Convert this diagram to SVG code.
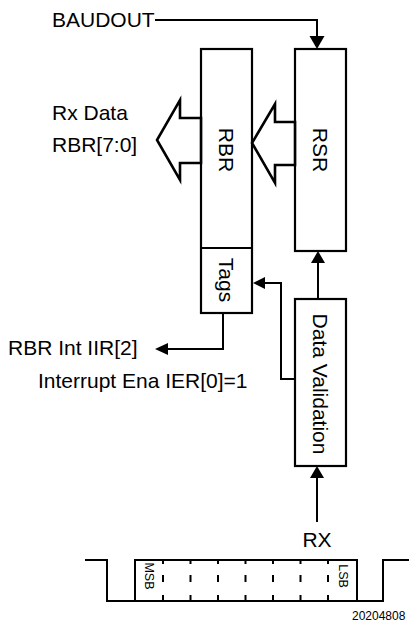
<svg xmlns="http://www.w3.org/2000/svg" width="409" height="625" viewBox="0 0 409 625">
<style>
.box{fill:#fff;stroke:#000;stroke-width:2.2}
.ln{fill:none;stroke:#000;stroke-width:2}
.ah{fill:#000;stroke:none}
.t{font-family:"Liberation Sans",Arial,sans-serif;font-size:21px;fill:#000}
.s{font-family:"Liberation Sans",Arial,sans-serif;font-size:12.5px;fill:#000}
.big{fill:#fff;stroke:#000;stroke-width:2.6;stroke-linejoin:miter}
.tick{stroke:#000;stroke-width:2;stroke-dasharray:4 11 7 13 6}
</style>
<rect width="409" height="625" fill="#fff"/>
<g id="connectors">
  <path class="ln" d="M155,20 H317 V37"/>
  <polygon class="ah" points="309.5,36 324.5,36 317,49"/>
  <path class="ln" d="M318,299 V262"/>
  <polygon class="ah" points="311,263 325,263 318,251"/>
  <path class="ln" d="M317,522 V477"/>
  <polygon class="ah" points="310,478 324,478 317,466"/>
  <path class="ln" d="M295,379 H281 V283 H263"/>
  <polygon class="ah" points="265,277 265,289 253,283"/>
  <path class="ln" d="M223,313 V349 H166"/>
  <polygon class="ah" points="168,343 168,355 155,349"/>
</g>
<g id="rsr">
  <rect class="box" x="295" y="49" width="51" height="202"/>
  <text class="t" transform="translate(320.5,150) rotate(90)" text-anchor="middle" y="7.5">RSR</text>
</g>
<g id="rbr">
  <rect class="box" x="201" y="49" width="51" height="264"/>
  <line class="ln" x1="201" y1="248" x2="252" y2="248"/>
  <text class="t" transform="translate(226.5,150) rotate(90)" text-anchor="middle" y="7.5">RBR</text>
</g>
<g id="tags">
  <text class="t" transform="translate(226.5,280) rotate(90)" text-anchor="middle" y="7.5">Tags</text>
</g>
<g id="data-validation">
  <rect class="box" x="295" y="299" width="51" height="167"/>
  <text class="t" transform="translate(320.5,384) rotate(90)" text-anchor="middle" y="7.5">Data Validation</text>
</g>
<g id="rsr-to-rbr-bus">
  <polygon class="big" points="295,122 275,122 275,104 252,143 275,183 275,165 295,165"/>
</g>
<g id="rx-data-bus">
  <polygon class="big" points="201,118 180,118 180,100 157,140 180,180 180,163 201,163"/>
</g>
<g id="labels">
  <text class="t" x="52" y="27">BAUDOUT</text>
  <text class="t" x="52" y="120">Rx Data</text>
  <text class="t" x="52" y="152">RBR[7:0]</text>
  <text class="t" x="8" y="355">RBR Int IIR[2]</text>
  <text class="t" x="38" y="388">Interrupt Ena IER[0]=1</text>
  <text class="t" x="317" y="547" text-anchor="middle">RX</text>
  <text class="s" x="352" y="620" style="font-size:12px">20204808</text>
</g>
<g id="rx-frame">
  <path class="ln" d="M85,560 H107 V601 H383 V560 H409"/>
  <path class="ln" d="M135,601 V560 H357 V601"/>
  <line class="tick" x1="163" y1="560" x2="163" y2="601"/>
  <line class="tick" x1="190.5" y1="560" x2="190.5" y2="601"/>
  <line class="tick" x1="218" y1="560" x2="218" y2="601"/>
  <line class="tick" x1="245.5" y1="560" x2="245.5" y2="601"/>
  <line class="tick" x1="273" y1="560" x2="273" y2="601"/>
  <line class="tick" x1="300.5" y1="560" x2="300.5" y2="601"/>
  <line class="tick" x1="328" y1="560" x2="328" y2="601"/>
  <text class="s" transform="translate(149,576) rotate(90)" text-anchor="middle" y="4.5">MSB</text>
  <text class="s" transform="translate(343,576) rotate(90)" text-anchor="middle" y="4.5">LSB</text>
</g>
</svg>
